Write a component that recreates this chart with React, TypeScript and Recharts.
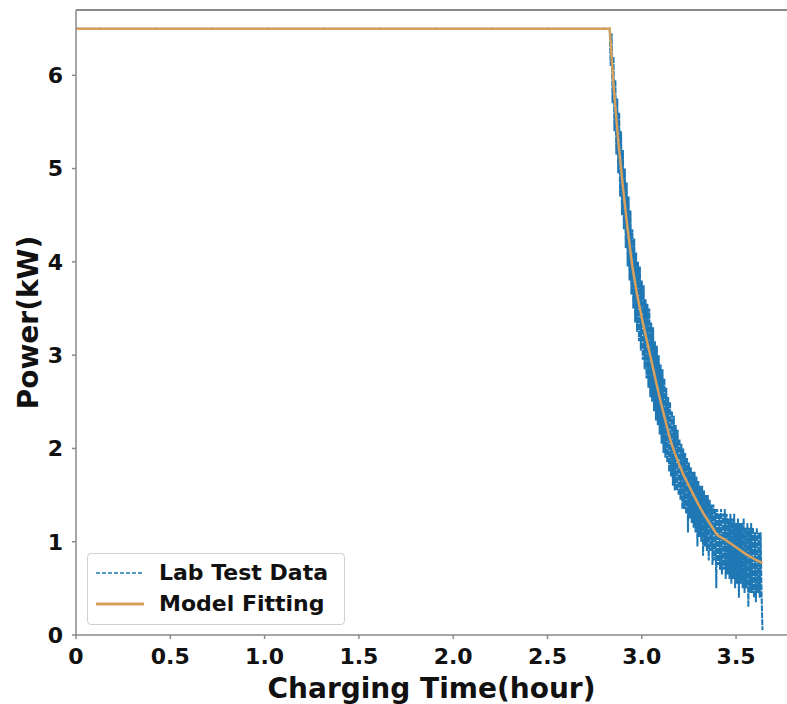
import { LineChart, Line, XAxis, YAxis, Legend, ReferenceLine } from 'recharts'

// model fitting curve (hour, kW)
const MODEL_TIME = [0, 2.83, 2.85, 2.875, 2.9, 2.925, 2.95, 2.975, 3.0, 3.025, 3.05, 3.075, 3.1, 3.125, 3.15, 3.175, 3.2, 3.225, 3.25, 3.275, 3.3, 3.325, 3.35, 3.375, 3.4, 3.45, 3.5, 3.55, 3.6, 3.64]
const MODEL_POWER = [6.5, 6.5, 5.9, 5.3, 4.8, 4.35, 3.95, 3.65, 3.4, 3.17, 2.95, 2.72, 2.5, 2.3, 2.1, 1.95, 1.82, 1.7, 1.6, 1.5, 1.4, 1.31, 1.23, 1.15, 1.07, 1.01, 0.94, 0.87, 0.81, 0.77]

// lab test data: constant 6.5 kW until the drop, then sampled every 0.005 h
const LAB_PLATEAU = 6.5
const LAB_START = 2.83
const LAB_STEP = 0.005
const LAB_POWER = [
  6.5, 6.1, 6.45, 5.7, 6.2, 5.4, 5.95, 5.15, 5.75, 4.95,
  5.6, 4.7, 5.4, 4.5, 5.2, 4.35, 5.0, 4.15, 4.85, 3.95,
  4.7, 3.8, 4.55, 3.65, 4.35, 3.5, 4.25, 3.35, 4.1, 3.25,
  4.0, 3.15, 3.95, 3.05, 3.8, 2.95, 3.75, 2.85, 3.6, 2.75,
  3.55, 2.65, 3.5, 2.55, 3.35, 2.5, 3.3, 2.4, 3.15, 2.3,
  3.1, 2.25, 3.0, 2.15, 2.9, 2.05, 2.85, 1.95, 2.75, 1.9,
  2.65, 1.85, 2.55, 1.75, 2.5, 1.7, 2.4, 1.6, 2.35, 1.55,
  2.25, 1.55, 2.2, 1.5, 2.1, 1.45, 2.05, 1.35, 2.0, 1.35,
  1.95, 1.3, 1.9, 1.1, 1.85, 1.25, 1.8, 1.2, 1.75, 1.15,
  1.75, 1.1, 1.7, 0.95, 1.65, 1.05, 1.6, 1.0, 1.6, 0.85,
  1.55, 0.95, 1.5, 0.9, 1.5, 0.8, 1.45, 0.9, 1.4, 0.75,
  1.4, 0.8, 1.35, 0.5, 1.35, 0.75, 1.3, 0.7, 1.35, 0.65,
  1.3, 0.7, 1.35, 0.6, 1.3, 0.65, 1.25, 0.6, 1.3, 0.55,
  1.25, 0.6, 1.3, 0.5, 1.2, 0.55, 1.25, 0.4, 1.2, 0.55,
  1.2, 0.5, 1.25, 0.45, 1.15, 0.5, 1.2, 0.3, 1.15, 0.45,
  1.2, 0.45, 1.15, 0.4, 1.1, 0.35, 1.15, 0.45, 1.1, 0.4,
  1.1, 0.45, 0.05,
]

const X_TICKS = [0, 0.5, 1.0, 1.5, 2.0, 2.5, 3.0, 3.5]
const Y_TICKS = [0, 1, 2, 3, 4, 5, 6]
const X_MAX = 3.77
const Y_MAX = 6.7

const FONT = '"DejaVu Sans", sans-serif'
const BLUE = '#1f77b4'
const ORANGE = '#d9a05b'
const SPINE = '#8a8a8a'

const modelData = MODEL_TIME.map((t, i) => ({ t, p: MODEL_POWER[i] }))
const labData = [
  { t: 0, p: LAB_PLATEAU },
  ...LAB_POWER.map((p, i) => ({ t: LAB_START + i * LAB_STEP, p })),
]

const tickStyle = { fill: '#111', fontSize: 22, fontWeight: 'bold', fontFamily: FONT }

function LegendBox() {
  const row = (label: string, sample: JSX.Element) => (
    <div style={{ display: 'flex', alignItems: 'center', height: 31 }}>
      <svg width={60} height={10} style={{ marginLeft: 6 }}>{sample}</svg>
      <span style={{ marginLeft: 5, fontFamily: FONT, fontWeight: 'bold', fontSize: 22, color: '#111' }}>{label}</span>
    </div>
  )
  return (
    <div style={{ border: '1px solid #d0d0d0', borderRadius: 4, background: 'rgba(255,255,255,0.85)', width: 258, height: 72, paddingTop: 3, boxSizing: 'border-box' }}>
      {row('Lab Test Data', <line x1={2} y1={5} x2={50} y2={5} stroke={BLUE} strokeWidth={1.5} strokeDasharray="4 2" />)}
      {row('Model Fitting', <line x1={2} y1={5} x2={50} y2={5} stroke={ORANGE} strokeWidth={3} />)}
    </div>
  )
}

export default function App() {
  return (
    <div style={{ position: 'absolute', left: 0, top: 0, background: '#fff' }}>
      <LineChart width={787} height={704} margin={{ top: 10, right: 0, bottom: 0, left: 0 }}>
        <XAxis
          type="number"
          dataKey="t"
          domain={[0, X_MAX]}
          ticks={X_TICKS}
          allowDataOverflow
          tickFormatter={(v: number) => (v === 0 ? '0' : v.toFixed(1))}
          tick={tickStyle}
          tickSize={4}
          tickMargin={9}
          height={69}
          stroke={SPINE}
          strokeWidth={1.5}
          label={{ value: 'Charging Time(hour)', position: 'insideBottom', offset: 6, fill: '#111', fontSize: 28, fontWeight: 'bold', fontFamily: FONT }}
        />
        <YAxis
          type="number"
          domain={[0, Y_MAX]}
          ticks={Y_TICKS}
          allowDataOverflow
          tick={tickStyle}
          tickSize={4}
          tickMargin={9}
          width={76}
          stroke={SPINE}
          strokeWidth={1.5}
          label={{ value: 'Power(kW)', angle: -90, position: 'insideLeft', offset: 28, fill: '#111', fontSize: 28, fontWeight: 'bold', fontFamily: FONT, style: { textAnchor: 'middle' } }}
        />
        <ReferenceLine y={Y_MAX} stroke={SPINE} strokeWidth={2} />
        <Line data={labData} dataKey="p" stroke={BLUE} strokeWidth={2} strokeDasharray="6 1" dot={false} isAnimationActive={false} />
        <Line data={modelData} dataKey="p" stroke={ORANGE} strokeWidth={2.5} dot={false} isAnimationActive={false} />
        <Legend
          layout="horizontal"
          verticalAlign="middle"
          align="center"
          content={() => <LegendBox />}
          wrapperStyle={{ left: 87, top: 553, width: 258, height: 72 }}
        />
      </LineChart>
    </div>
  )
}
